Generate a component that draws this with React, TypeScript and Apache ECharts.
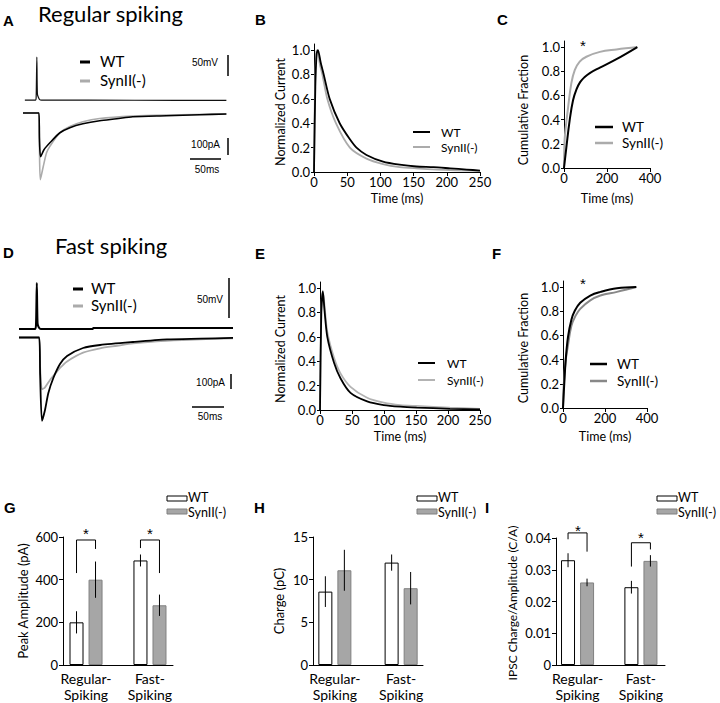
import React, { useEffect, useRef } from "react";
import * as echarts from "echarts";

type Pt = [number, number];

// ---------- Panel A: regular spiking example traces (time ms ; mV / pA) ----------
const aVoltageTrace: Pt[] = [[3, 0], [20.5, 0], [21.3, 8], [22.4, 102], [23.3, 14], [25, 6], [27, 1], [30, 0], [180, -0.5], [329, -1]];
const aCurrentWT: Pt[] = [[0, 0], [25.8, 0], [26.6, -150], [28.5, -257], [33.9, -216], [43.5, -175], [59.7, -116], [75.8, -86], [96.8, -63], [124, -45], [151.6, -34], [177.4, -22], [232, -16], [285.5, -10], [329, -6]];
const aCurrentSynII: Pt[] = [[0, 0], [25.8, 0], [26.6, -200], [28, -392], [32.7, -316], [38.2, -233], [43.5, -196], [59.7, -116], [75.8, -79], [96.8, -51], [124, -32], [177.4, -18], [232, -12], [329, -6]];

// ---------- Panel D: fast spiking example traces ----------
const dVoltageTrace: Pt[] = [[0, 0], [25, 0], [26.5, 5], [27.8, 57.5], [29, 7], [31, 2], [34, 0], [115, 0], [116, 1.3], [334, 1.3]];
const dCurrentWT: Pt[] = [[0, 0], [31.5, 0], [33, -250], [35.9, -555], [40.6, -483], [45.8, -370], [53.6, -270], [64, -177], [75, -123], [100, -70], [126.6, -50], [178, -30], [231, -13], [283, -8], [334, -3]];
const dCurrentSynII: Pt[] = [[0, 0], [31.5, 0], [33, -200], [35.9, -345], [40.6, -332], [48.4, -283], [56.3, -243], [64, -203], [74.5, -161], [100, -101], [126.6, -72], [153, -55], [178, -39], [215, -25], [256, -17], [334, -5]];

// ---------- Panels B / E: normalized current (time ms, fraction) ----------
const bNormWT: Pt[] = [[0, 0], [2, 0.7], [4, 0.97], [6, 1.0], [10, 0.9], [14.6, 0.8], [23.6, 0.6], [38.7, 0.4], [53.8, 0.27], [64, 0.2], [79, 0.14], [104, 0.085], [129, 0.06], [154, 0.045], [180, 0.04], [205, 0.03], [230, 0.02], [250, 0.012]];
const bNormSynII: Pt[] = [[0, 0], [1.5, 0.7], [3.5, 0.99], [5, 1.0], [9, 0.88], [12.6, 0.8], [20, 0.6], [33, 0.4], [54, 0.2], [79, 0.11], [104, 0.065], [129, 0.04], [154, 0.03], [205, 0.015], [250, 0.01]];
const eNormWT: Pt[] = [[0, 0], [2, 0.8], [4.5, 0.97], [7, 0.82], [11.4, 0.6], [21.8, 0.39], [32, 0.26], [47.7, 0.14], [73.7, 0.07], [99.6, 0.04], [125.5, 0.027], [151, 0.02], [203, 0.01], [250, 0.005]];
const eNormSynII: Pt[] = [[0, 0], [2, 0.8], [4.5, 0.98], [7, 0.86], [11.4, 0.64], [21.8, 0.43], [32, 0.3], [47.7, 0.19], [73.7, 0.1], [99.6, 0.06], [125.5, 0.04], [151, 0.033], [203, 0.02], [250, 0.01]];

// ---------- Panels C / F: cumulative fraction (time ms, fraction) ----------
const cCumWT: Pt[] = [[0, 0], [11, 0.17], [26, 0.39], [42, 0.56], [58, 0.65], [75, 0.71], [95, 0.75], [120, 0.785], [167, 0.83], [244, 0.9], [341, 1.0]];
const cCumSynII: Pt[] = [[0, 0], [2, 0.2], [6, 0.3], [19, 0.5], [34, 0.7], [50, 0.81], [73, 0.88], [104, 0.92], [167, 0.96], [244, 0.98], [341, 1.0]];
const fCumWT: Pt[] = [[0, 0], [6, 0.2], [13, 0.4], [24, 0.59], [40, 0.73], [55, 0.8], [82, 0.87], [130, 0.93], [178, 0.96], [257, 0.99], [349, 1.0]];
const fCumSynII: Pt[] = [[0, 0], [4, 0.2], [12, 0.38], [22, 0.5], [40, 0.68], [59, 0.76], [82, 0.82], [130, 0.89], [178, 0.93], [257, 0.96], [349, 1.0]];

// ---------- Panels G / H / I: bar summaries ----------
const groups = ["Regular-\nSpiking", "Fast-\nSpiking"];
const peakWT = [200, 490];
const peakWTErr = [52, 28];
const peakSynII = [400, 280];
const peakSynIIErr = [85, 50];
const chargeWT = [8.6, 12.0];
const chargeWTErr = [1.8, 0.95];
const chargeSynII = [11.1, 9.0];
const chargeSynIIErr = [2.4, 1.9];
const ratioWT = [0.033, 0.0245];
const ratioWTErr = [0.0022, 0.002];
const ratioSynII = [0.026, 0.0328];
const ratioSynIIErr = [0.0012, 0.0018];
// significance brackets: [group, left leg bottom, top, right leg bottom]
const peakSig = [[0, 431, 586, 544], [1, 548, 586, 431]];
const ratioSig = [[0, 0.0396, 0.0416, 0.0357], [1, 0.031, 0.0385, 0.0364]];

const FONT = "Lato, 'Open Sans', sans-serif";
const BAR_W = 14;
const BAR_OFF = 9.5;
const GRAY = "#ababab";
const BAR_GRAY = "#a6a6a6";

const lineSeries = (xi: number, yi: number, data: Pt[], color: string, width: number, smooth = 0.25) => ({
  type: "line",
  xAxisIndex: xi,
  yAxisIndex: yi,
  data,
  symbol: "none",
  smooth,
  silent: true,
  lineStyle: { color, width },
});

const hiddenAxis = (gi: number, min: number, max: number) => ({
  gridIndex: gi, type: "value", min, max, show: false,
});

const yFracTicks = [0, 0.2, 0.4, 0.6, 0.8, 1.0];

const plotX = (gi: number, max: number, interval: number) => ({
  gridIndex: gi, type: "value", min: 0, max, interval,
  axisLine: { show: true, onZero: false, lineStyle: { color: "#000", width: 1 } },
  axisTick: { show: true, length: 4, lineStyle: { color: "#000" } },
  axisLabel: { color: "#000", fontSize: 13, margin: 3, fontFamily: FONT },
  splitLine: { show: false },
});
const plotY = (gi: number) => ({
  gridIndex: gi, type: "value", min: 0, max: 1.05,
  axisLine: { show: true, onZero: false, lineStyle: { color: "#000", width: 1 } },
  axisTick: { show: true, length: 3, customValues: yFracTicks, lineStyle: { color: "#000" } },
  axisLabel: { customValues: yFracTicks, formatter: (v: number) => v.toFixed(1), color: "#000", fontSize: 13, margin: 4, fontFamily: FONT },
  splitLine: { show: false },
});
const barX = (gi: number, min: number, max: number) => ({
  gridIndex: gi, type: "value", min, max,
  axisLine: { show: true, onZero: false, lineStyle: { color: "#000", width: 1 } },
  axisTick: { show: false },
  axisLabel: {
    customValues: [0, 1], formatter: (v: number) => groups[Math.round(v)],
    color: "#000", fontSize: 14, lineHeight: 16, margin: 5, fontFamily: FONT,
  },
  splitLine: { show: false },
});
const barY = (gi: number, max: number, interval: number) => ({
  gridIndex: gi, type: "value", min: 0, max, interval,
  axisLine: { show: true, onZero: false, lineStyle: { color: "#000", width: 1 } },
  axisTick: { show: true, length: 4, lineStyle: { color: "#000" } },
  axisLabel: { color: "#000", fontSize: 13, margin: 5, fontFamily: FONT },
  splitLine: { show: false },
});

const errRender = (_p: any, api: any) => {
  const x = api.value(0), v = api.value(1), e = api.value(2), side = api.value(3);
  const t = api.coord([x, v + e]);
  const b = api.coord([x, v - e]);
  const px = t[0] + side * BAR_OFF;
  return { type: "line", shape: { x1: px, y1: t[1], x2: px, y2: b[1] }, style: { stroke: "#000", lineWidth: 1 } };
};
const sigRender = (_p: any, api: any) => {
  const g = api.value(0);
  const L = api.coord([g, api.value(1)]);
  const T = api.coord([g, api.value(2)]);
  const R = api.coord([g, api.value(3)]);
  const xl = L[0] - BAR_OFF, xr = L[0] + BAR_OFF;
  return {
    type: "polyline",
    shape: { points: [[xl, L[1]], [xl, T[1]], [xr, T[1]], [xr, R[1]]] },
    style: { stroke: "#000", fill: "none", lineWidth: 1 },
  };
};

const barSet = (xi: number, yi: number, wt: number[], wtErr: number[], ko: number[], koErr: number[]) => [
  { type: "bar", xAxisIndex: xi, yAxisIndex: yi, data: wt.map((v, i) => [i, v]), barWidth: BAR_W, barGap: "36%", silent: true, itemStyle: { color: "#fff", borderColor: "#000", borderWidth: 1 } },
  { type: "bar", xAxisIndex: xi, yAxisIndex: yi, data: ko.map((v, i) => [i, v]), barWidth: BAR_W, barGap: "36%", silent: true, itemStyle: { color: BAR_GRAY, borderColor: "#808080", borderWidth: 1 } },
  {
    type: "custom", xAxisIndex: xi, yAxisIndex: yi, silent: true, z: 5,
    itemStyle: { color: "#000" },
    data: [...wt.map((v, i) => [i, v, wtErr[i], -1]), ...ko.map((v, i) => [i, v, koErr[i], 1])],
    renderItem: errRender,
  },
];

const txt = (x: number, y: number, text: string, size: number, o: any = {}) => ({
  type: "text", x, y, silent: true, rotation: o.rot || 0,
  style: {
    text, fontSize: size, fontFamily: o.family || FONT, fontWeight: o.weight || "normal",
    fill: "#000", align: o.align || "left", verticalAlign: "middle",
  },
});
const seg = (x1: number, y1: number, x2: number, y2: number, color: string, w: number) => ({
  type: "line", silent: true, shape: { x1, y1, x2, y2 }, style: { stroke: color, lineWidth: w },
});
const box = (x: number, y: number, fill: string, stroke: string) => ({
  type: "rect", silent: true, shape: { x, y, width: 20, height: 5 }, style: { fill, stroke, lineWidth: 1 },
});
const star = (x: number, y: number) => txt(x, y, "*", 15, { align: "center", family: "'Liberation Sans', Arial, sans-serif" });
const ROT = Math.PI / 2;
const LETTER = { weight: "bold", family: "'Liberation Sans', Arial, sans-serif" };
const SCALE = { align: "right", family: "'Liberation Sans', Arial, sans-serif" };

export default function App() {
  const ref = useRef<HTMLDivElement>(null);
  useEffect(() => {
    if (!ref.current) return;
    const chart = echarts.init(ref.current, null, { renderer: "svg" });
    const option: any = {
      animation: false,
      backgroundColor: "#fff",
      textStyle: { fontFamily: FONT },
      grid: [
        { left: 23, top: 50, width: 204, height: 140 },   // A
        { left: 19, top: 270, width: 214, height: 160 },  // D
        { left: 314, top: 44, width: 166, height: 128 },  // B
        { left: 564, top: 41, width: 86, height: 127 },   // C
        { left: 320, top: 282, width: 160, height: 128 }, // E
        { left: 563, top: 281, width: 84, height: 127 },  // F
        { left: 63, top: 537, width: 110, height: 128 },  // G
        { left: 313, top: 537, width: 110, height: 128 }, // H
        { left: 556, top: 538, width: 109, height: 127 }, // I
      ],
      xAxis: [
        hiddenAxis(0, 0, 330),
        hiddenAxis(1, 0, 334),
        plotX(2, 250, 50),
        plotX(3, 400, 200),
        plotX(4, 250, 50),
        plotX(5, 400, 200),
        barX(6, -0.36, 1.36),
        barX(7, -0.33, 1.33),
        barX(8, -0.34, 1.38),
      ],
      yAxis: [
        hiddenAxis(0, -214, 119),
        hiddenAxis(0, -453, 371),
        hiddenAxis(1, -126.25, 73.75),
        hiddenAxis(1, -616.7, 450),
        plotY(2),
        plotY(3),
        plotY(4),
        plotY(5),
        barY(6, 600, 200),
        barY(7, 15, 5),
        barY(8, 0.04, 0.01),
      ],
      series: [
        lineSeries(0, 0, aVoltageTrace, "#111", 1.2),
        lineSeries(0, 1, aCurrentSynII, GRAY, 1.6),
        lineSeries(0, 1, aCurrentWT, "#000", 1.6),
        lineSeries(1, 2, dVoltageTrace, "#000", 2),
        lineSeries(1, 3, dCurrentSynII, GRAY, 1.8),
        lineSeries(1, 3, dCurrentWT, "#000", 1.8),
        lineSeries(2, 4, bNormSynII, GRAY, 1.8),
        lineSeries(2, 4, bNormWT, "#000", 1.8),
        lineSeries(3, 5, cCumSynII, GRAY, 2, 0.4),
        lineSeries(3, 5, cCumWT, "#000", 2, 0.4),
        lineSeries(4, 6, eNormSynII, "#b3b3b3", 1.8),
        lineSeries(4, 6, eNormWT, "#000", 1.8),
        lineSeries(5, 7, fCumSynII, "#888", 2, 0.4),
        lineSeries(5, 7, fCumWT, "#000", 2, 0.4),
        ...barSet(6, 8, peakWT, peakWTErr, peakSynII, peakSynIIErr),
        ...barSet(7, 9, chargeWT, chargeWTErr, chargeSynII, chargeSynIIErr),
        ...barSet(8, 10, ratioWT, ratioWTErr, ratioSynII, ratioSynIIErr),
        { type: "custom", xAxisIndex: 6, yAxisIndex: 8, silent: true, itemStyle: { color: "#000" }, data: peakSig, renderItem: sigRender, z: 6 },
        { type: "custom", xAxisIndex: 8, yAxisIndex: 10, silent: true, itemStyle: { color: "#000" }, data: ratioSig, renderItem: sigRender, z: 6 },
      ],
      graphic: [
        // panel letters
        txt(3, 20, "A", 15, LETTER), txt(255, 19, "B", 15, LETTER), txt(497, 19, "C", 15, LETTER),
        txt(3, 252, "D", 15, LETTER), txt(255, 253, "E", 15, LETTER), txt(492, 253, "F", 15, LETTER),
        txt(4, 507, "G", 15, LETTER), txt(254, 507, "H", 15, LETTER), txt(485, 507, "I", 15, LETTER),
        // titles
        txt(38, 13, "Regular spiking", 22),
        txt(55, 245, "Fast spiking", 22),
        // legend A
        seg(80, 62, 90, 62, "#000", 3), txt(100, 61, "WT", 15),
        seg(80, 81, 90, 81, GRAY, 3), txt(100, 80, "SynII(-)", 15),
        // scale bars A
        txt(218, 62, "50mV", 10, SCALE), seg(228, 55, 228, 76, "#000", 1.5),
        txt(220, 144, "100pA", 10, SCALE), seg(228, 138, 228, 155, "#000", 1.5),
        seg(190, 159, 221, 159, "#000", 1.5), txt(207, 169, "50ms", 10, { ...SCALE, align: "center" }),
        // legend D
        seg(73, 289, 83, 289, "#000", 3), txt(91, 288, "WT", 15),
        seg(73, 306, 83, 306, GRAY, 3), txt(91, 305, "SynII(-)", 15),
        // scale bars D
        txt(223, 299, "50mV", 10, SCALE), seg(229, 278, 229, 318, "#000", 1.5),
        txt(225, 382, "100pA", 10, SCALE), seg(231, 374, 231, 389, "#000", 1.5),
        seg(192, 407, 224, 407, "#000", 1.5), txt(210, 416, "50ms", 10, { ...SCALE, align: "center" }),
        // B
        seg(413, 132, 430, 132, "#000", 2), txt(441, 132, "WT", 12),
        seg(413, 147, 430, 147, GRAY, 2), txt(441, 147, "SynII(-)", 12),
        txt(280, 112, "Normalized Current", 12.5, { rot: ROT, align: "center" }),
        txt(397, 198, "Time (ms)", 12.5, { align: "center" }),
        // C
        seg(595, 127, 613, 127, "#000", 2.5), txt(622, 127, "WT", 13.5),
        seg(595, 143, 613, 143, GRAY, 2.5), txt(622, 143, "SynII(-)", 13.5),
        star(583, 45),
        txt(523, 110, "Cumulative Fraction", 12.5, { rot: ROT, align: "center" }),
        txt(607, 198, "Time (ms)", 12.5, { align: "center" }),
        // E
        seg(418, 363, 435, 363, "#000", 2), txt(447, 363, "WT", 12),
        seg(418, 380, 435, 380, "#b3b3b3", 2), txt(447, 380, "SynII(-)", 12),
        txt(280, 349, "Normalized Current", 12.5, { rot: ROT, align: "center" }),
        txt(400, 436, "Time (ms)", 12.5, { align: "center" }),
        // F
        seg(590, 364, 607, 364, "#000", 2.5), txt(617, 364, "WT", 13.5),
        seg(590, 381, 607, 381, "#888", 2.5), txt(617, 381, "SynII(-)", 13.5),
        star(583, 283),
        txt(523, 348, "Cumulative Fraction", 12.5, { rot: ROT, align: "center" }),
        txt(605, 436, "Time (ms)", 12.5, { align: "center" }),
        // G
        box(167, 496, "#fff", "#000"), txt(188, 497, "WT", 12.5),
        box(167, 509, BAR_GRAY, "#808080"), txt(188, 512, "SynII(-)", 12.5),
        star(86, 533), star(150, 533),
        txt(23, 601, "Peak Amplitude (pA)", 13, { rot: ROT, align: "center" }),
        // H
        box(417, 496, "#fff", "#000"), txt(438, 497, "WT", 12.5),
        box(417, 509, BAR_GRAY, "#808080"), txt(438, 512, "SynII(-)", 12.5),
        txt(279, 601, "Charge (pC)", 13, { rot: ROT, align: "center" }),
        // I
        box(657, 496, "#fff", "#000"), txt(678, 497, "WT", 12.5),
        box(657, 509, BAR_GRAY, "#808080"), txt(678, 512, "SynII(-)", 12.5),
        star(578, 530), star(641, 537),
        txt(512, 603, "IPSC Charge/Amplitude (C/A)", 12, { rot: ROT, align: "center" }),
      ],
    };
    chart.setOption(option);
    return () => chart.dispose();
  }, []);
  return <div ref={ref} style={{ position: "absolute", left: 0, top: 0, width: 720, height: 703 }} />;
}
